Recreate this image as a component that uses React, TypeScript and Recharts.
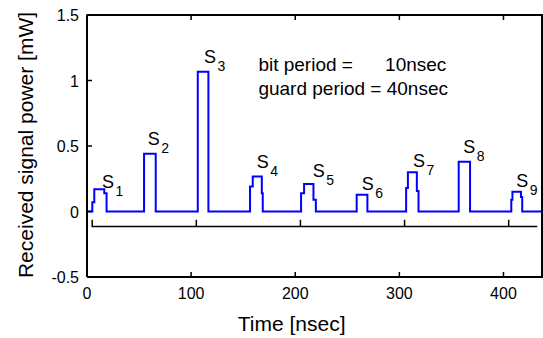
import React from 'react';
import { Label, Line, LineChart, ReferenceDot, XAxis, YAxis } from 'recharts';

const FONT = '"Liberation Sans", Arial, sans-serif';

const timeTicks = [0, 100, 200, 300, 400];
const powerTicks = [-0.5, 0, 0.5, 1, 1.5];
const timeMax = 437;
const powerMin = -0.5;
const powerMax = 1.5;

// one entry per received slot S1..S9
const slotNames = ['1', '2', '3', '4', '5', '6', '7', '8', '9'];
const riseStart = [5.1, 54.8, 106.4, 156.6, 205.6, 259.0, 306.5, 357.0, 407.5];
const riseStep = [7.0, 54.8, 106.4, 159.2, 208.5, 259.0, 308.2, 357.0, 408.6];
const fallStep = [16.6, 66.0, 116.6, 167.9, 217.5, 269.3, 316.8, 367.9, 416.8];
const fallEnd = [18.8, 66.0, 116.6, 168.8, 219.8, 269.3, 318.4, 367.9, 418.0];
const riseLevel = [0.07, 0.44, 1.067, 0.19, 0.14, 0.127, 0.18, 0.379, 0.09];
const peakLevel = [0.169, 0.44, 1.067, 0.268, 0.209, 0.127, 0.3, 0.379, 0.15];
const fallLevel = [0.14, 0.44, 1.067, 0.14, 0.09, 0.127, 0.156, 0.379, 0.11];

// S_i text anchors (data units)
const labelTime = [14.4, 58.3, 112.4, 163.0, 216.9, 263.9, 313.2, 361.3, 412.2];
const labelPower = [0.181, 0.508, 1.133, 0.333, 0.267, 0.165, 0.343, 0.447, 0.188];

// frame marker under the trace
const frameTicks = [5, 105, 205, 305, 405];
const frameEnd = 432.5;
const frameLevel = -0.114;
const frameTickTop = -0.063;

const noteTime = [164.6, 286.3, 164.6];
const notePower = [1.072, 1.072, 0.893];
const noteText = ['bit period =', '10nsec', 'guard period = 40nsec'];

const trace: { t: number; p: number }[] = [{ t: 0, p: 0 }];
slotNames.forEach((_, i) => {
  trace.push(
    { t: riseStart[i], p: 0 },
    { t: riseStart[i], p: riseLevel[i] },
    { t: riseStep[i], p: riseLevel[i] },
    { t: riseStep[i], p: peakLevel[i] },
    { t: fallStep[i], p: peakLevel[i] },
    { t: fallStep[i], p: fallLevel[i] },
    { t: fallEnd[i], p: fallLevel[i] },
    { t: fallEnd[i], p: 0 }
  );
});
trace.push({ t: timeMax, p: 0 });

const frame: { t: number; p: number }[] = [];
frameTicks.forEach((t) => {
  frame.push({ t, p: frameLevel }, { t, p: frameTickTop }, { t, p: frameLevel });
});
frame.push({ t: frameEnd, p: frameLevel });

// inward ticks on the top edge of the box
const topTickDrop = 0.038;
const topTicks: { t: number; p: number }[] = [];
timeTicks.forEach((t) => {
  topTicks.push({ t, p: powerMax }, { t, p: powerMax - topTickDrop }, { t, p: powerMax });
});
topTicks.push({ t: timeMax, p: powerMax });

const BottomTick = ({ x, y, payload }: any) => (
  <g>
    <line x1={x} x2={x} y1={y} y2={y - 5} stroke="#000" strokeWidth={1.5} />
    <text x={x} y={y + 22} textAnchor="middle" fontSize={16} fontFamily={FONT} fill="#000">
      {payload.value}
    </text>
  </g>
);

const LeftTick = ({ x, y, payload }: any) => (
  <g>
    <line x1={x} x2={x + 5} y1={y} y2={y} stroke="#000" strokeWidth={1.5} />
    <text x={x - 8} y={y + 6} textAnchor="end" fontSize={16} fontFamily={FONT} fill="#000">
      {payload.value}
    </text>
  </g>
);

const slotShape = (name: string) => (props: any) => (
  <text x={props.cx} y={props.cy} fontSize={18} fontFamily={FONT} fill="#000">
    S
    <tspan dx={1.5} dy={8} fontSize={14}>
      {name}
    </tspan>
  </text>
);

const noteShape = (text: string) => (props: any) => (
  <text x={props.cx} y={props.cy} fontSize={19} fontFamily={FONT} fill="#000" style={{ whiteSpace: 'pre' }}>
    {text}
  </text>
);

export default function App() {
  return (
    <div style={{ position: 'absolute', left: 0, top: 0, width: 543, height: 338, background: '#fff', overflow: 'hidden' }}>
      <LineChart width={543} height={338} margin={{ top: 15, right: 1, bottom: 21, left: 0 }}>
        <XAxis
          dataKey="t"
          type="number"
          domain={[0, timeMax]}
          ticks={timeTicks}
          interval={0}
          height={40}
          tickSize={0}
          tickMargin={0}
          tickLine={false}
          axisLine={{ stroke: '#000', strokeWidth: 2 }}
          tick={<BottomTick />}
        >
          <Label
            content={() => (
              <text x={291.7} y={330.5} textAnchor="middle" fontSize={21} fontFamily={FONT} fill="#000">
                Time [nsec]
              </text>
            )}
          />
        </XAxis>
        <YAxis
          type="number"
          domain={[powerMin, powerMax]}
          ticks={powerTicks}
          interval={0}
          width={87}
          tickSize={0}
          tickMargin={0}
          tickLine={false}
          axisLine={{ stroke: '#000', strokeWidth: 2 }}
          tick={<LeftTick />}
        >
          <Label
            content={() => (
              <text
                transform="translate(33.3,145) rotate(-90)"
                textAnchor="middle"
                fontSize={21}
                fontFamily={FONT}
                fill="#000"
              >
                Received signal power [mW]
              </text>
            )}
          />
        </YAxis>
        <Line
          data={topTicks}
          dataKey="p"
          type="linear"
          stroke="#000"
          strokeWidth={1.5}
          dot={false}
          isAnimationActive={false}
        />
        <Line
          data={frame}
          dataKey="p"
          type="linear"
          stroke="#000"
          strokeWidth={1.5}
          dot={false}
          isAnimationActive={false}
        />
        <Line
          data={trace}
          dataKey="p"
          type="linear"
          stroke="#0000ff"
          strokeWidth={2}
          dot={false}
          isAnimationActive={false}
        />
        {slotNames.map((name, i) => (
          <ReferenceDot
            key={'s' + name}
            x={labelTime[i]}
            y={labelPower[i]}
            r={0}
            ifOverflow="visible"
            shape={slotShape(name)}
          />
        ))}
        {noteText.map((text, i) => (
          <ReferenceDot
            key={'n' + i}
            x={noteTime[i]}
            y={notePower[i]}
            r={0}
            ifOverflow="visible"
            shape={noteShape(text)}
          />
        ))}
      </LineChart>
      {/* top and right edges of the axes box */}
      <div
        style={{
          position: 'absolute',
          left: 87,
          top: 14,
          width: 454,
          height: 262,
          borderTop: '2px solid #000',
          borderRight: '2px solid #000',
          pointerEvents: 'none'
        }}
      />
    </div>
  );
}
